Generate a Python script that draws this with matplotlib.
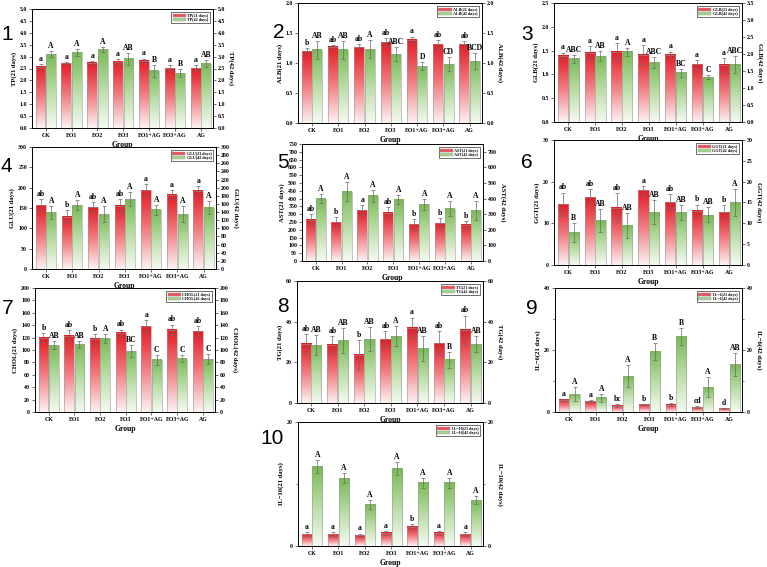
"""Serum indices of the seven feeding groups at 21 and 42 days (ten twin-axis bar panels)."""

import numpy as np
import matplotlib
matplotlib.use("Agg")
import matplotlib.pyplot as plt
from matplotlib.colors import LinearSegmentedColormap
from matplotlib.patches import Patch
from matplotlib.ticker import MultipleLocator, FormatStrFormatter

groups = ["CK", "EO1", "EO2", "EO3", "EO1+AG", "EO3+AG", "AG"]

# 1 TP
tp_21 = [2.58, 2.73, 2.75, 2.79, 2.82, 2.51, 2.51]
tp_21_err = [0.12, 0.05, 0.05, 0.10, 0.10, 0.12, 0.12]
tp_21_sig = ["a", "a", "a", "a", "a", "a", "a"]
tp_42 = [3.10, 3.18, 3.31, 2.90, 2.41, 2.31, 2.70]
tp_42_err = [0.12, 0.15, 0.10, 0.25, 0.25, 0.15, 0.15]
tp_42_sig = ["A", "A", "A", "AB", "B", "B", "AB"]

# 2 ALB
alb_21 = [1.20, 1.27, 1.26, 1.35, 1.39, 1.31, 1.31]
alb_21_err = [0.05, 0.03, 0.05, 0.07, 0.05, 0.07, 0.06]
alb_21_sig = ["b", "ab", "ab", "ab", "a", "ab", "ab"]
alb_42 = [1.22, 1.22, 1.23, 1.15, 0.95, 0.98, 1.03]
alb_42_err = [0.15, 0.15, 0.15, 0.12, 0.06, 0.12, 0.13]
alb_42_sig = ["AB", "AB", "A", "ABC", "D", "CD", "BCD"]

# 3 GLB (right axis has its own scale)
glb_21 = [1.39, 1.45, 1.48, 1.41, 1.41, 1.21, 1.20]
glb_21_err = [0.07, 0.15, 0.17, 0.20, 0.07, 0.10, 0.15]
glb_21_sig = ["a", "a", "a", "a", "a", "a", "a"]
glb_42 = [1.86, 1.94, 2.06, 1.75, 1.45, 1.32, 1.68]
glb_42_err = [0.12, 0.15, 0.12, 0.17, 0.12, 0.06, 0.25]
glb_42_sig = ["ABC", "AB", "A", "ABC", "BC", "C", "ABC"]

# 4 GLU
glu_21 = [157, 129, 152, 156, 194, 183, 193]
glu_21_err = [15, 15, 12, 15, 15, 12, 12]
glu_21_sig = ["ab", "b", "ab", "ab", "a", "a", "a"]
glu_42 = [139, 157, 135, 172, 146, 135, 151]
glu_42_err = [15, 12, 20, 18, 12, 20, 15]
glu_42_sig = ["A", "A", "A", "A", "A", "A", "A"]

# 5 AST
ast_21 = [266, 249, 326, 309, 236, 243, 232]
ast_21_err = [35, 35, 30, 35, 35, 30, 25]
ast_21_sig = ["ab", "b", "a", "ab", "b", "b", "b"]
ast_42 = [400, 445, 417, 394, 364, 336, 323]
ast_42_err = [30, 60, 40, 30, 35, 50, 60]
ast_42_sig = ["A", "A", "A", "A", "A", "A", "A"]

# 6 GGT
ggt_21 = [14.6, 16.3, 13.7, 17.9, 15.1, 13.0, 12.7]
ggt_21_err = [2.8, 2.0, 3.5, 1.0, 2.0, 1.5, 1.6]
ggt_21_sig = ["ab", "ab", "ab", "a", "ab", "b", "b"]
ggt_42 = [7.8, 10.7, 9.4, 12.7, 12.6, 12.0, 15.0]
ggt_42_err = [2.2, 2.8, 3.0, 2.8, 1.8, 1.8, 3.2]
ggt_42_sig = ["B", "AB", "AB", "AB", "AB", "AB", "A"]

# 7 CHOL
chol_21 = [120, 123, 118, 128, 138, 133, 130]
chol_21_err = [7, 9, 8, 5, 10, 8, 8]
chol_21_sig = ["b", "ab", "b", "ab", "a", "ab", "ab"]
chol_42 = [108, 109, 119, 98, 84, 86, 85]
chol_42_err = [6, 6, 7, 10, 8, 6, 8]
chol_42_sig = ["AB", "AB", "A", "BC", "C", "C", "C"]

# 8 TG
tg_21 = [29.1, 28.6, 23.8, 31.4, 37.0, 29.4, 36.0]
tg_21_err = [5, 4.5, 7, 4, 5, 6, 7]
tg_21_sig = ["ab", "ab", "b", "ab", "a", "ab", "ab"]
tg_42 = [28.4, 30.7, 31.4, 32.9, 26.9, 21.2, 28.9]
tg_42_err = [5, 6, 6, 5, 6, 4, 4]
tg_42_sig = ["AB", "AB", "AB", "A", "AB", "B", "AB"]

# 9 IL-6
il6_21 = [4.0, 3.5, 2.05, 2.5, 2.4, 1.5, 1.2]
il6_21_err = [0.3, 0.3, 0.5, 0.2, 0.6, 0.3, 0.2]
il6_21_sig = ["a", "a", "bc", "b", "b", "cd", "d"]
il6_42 = [5.7, 4.6, 11.6, 19.5, 24.3, 8.0, 15.4]
il6_42_err = [2.3, 1.3, 3.5, 2.7, 2.8, 3.3, 3.7]
il6_42_sig = ["A", "A", "A", "B", "B", "A", "AB"]

# 10 IL-10
il10_21 = [1.9, 1.9, 1.7, 2.1, 3.1, 2.1, 1.9]
il10_21_err = [0.3, 0.3, 0.3, 0.3, 0.4, 0.3, 0.3]
il10_21_sig = ["a", "a", "a", "a", "b", "a", "a"]
il10_42 = [12.8, 10.9, 6.7, 12.5, 10.2, 10.2, 7.4]
il10_42_err = [1.0, 0.8, 0.7, 1.1, 0.8, 0.8, 0.6]
il10_42_sig = ["A", "A", "A", "A", "A", "A", "A"]

W, H = 767, 567
SERIF = "Liberation Serif"
red_cmap = LinearSegmentedColormap.from_list("red", ["#fdf1f2", "#f27d82", "#e41c25"])
green_cmap = LinearSegmentedColormap.from_list("green", ["#f4faf0", "#b9dca5", "#78bb55"])
bar_w = 0.38

panels = [
    # number, name, data, axes px box (x0, y0, x1, y1), left (top, step), right (top, step), fmt, number xy
    ("1", "TP", (tp_21, tp_21_err, tp_21_sig, tp_42, tp_42_err, tp_42_sig),
     (32, 9, 213, 128), (5.0, 0.5), (5.0, 0.5), "%.1f", (7, 35)),
    ("2", "ALB", (alb_21, alb_21_err, alb_21_sig, alb_42, alb_42_err, alb_42_sig),
     (298, 3, 482, 123), (2.0, 0.5), (2.0, 0.5), "%.1f", (279, 33)),
    ("3", "GLB", (glb_21, glb_21_err, glb_21_sig, glb_42, glb_42_err, glb_42_sig),
     (554, 3, 742, 122), (2.5, 0.5), (3.5, 0.5), "%.1f", (527, 35)),
    ("4", "GLU", (glu_21, glu_21_err, glu_21_sig, glu_42, glu_42_err, glu_42_sig),
     (32, 147, 216, 269), (300, 50), (300, 20), "%d", (6, 167)),
    ("5", "AST", (ast_21, ast_21_err, ast_21_sig, ast_42, ast_42_err, ast_42_sig),
     (302, 144, 483, 261), (750, 50), (750, 100), "%d", (283, 162)),
    ("6", "GGT", (ggt_21, ggt_21_err, ggt_21_sig, ggt_42, ggt_42_err, ggt_42_sig),
     (554, 140, 742, 265), (30, 10), (30, 5), "%d", (527, 163)),
    ("7", "CHOL", (chol_21, chol_21_err, chol_21_sig, chol_42, chol_42_err, chol_42_sig),
     (35, 288, 215, 412), (200, 20), (200, 20), "%d", (8, 308)),
    ("8", "TG", (tg_21, tg_21_err, tg_21_sig, tg_42, tg_42_err, tg_42_sig),
     (297, 281, 483, 403), (60, 20), (60, 20), "%d", (283, 307)),
    ("9", "IL\u22126", (il6_21, il6_21_err, il6_21_sig, il6_42, il6_42_err, il6_42_sig),
     (555, 288, 742, 412), (40, 20), (40, 20), "%d", (532, 308)),
    ("10", "IL\u221210", (il10_21, il10_21_err, il10_21_sig, il10_42, il10_42_err, il10_42_sig),
     (298, 422, 483, 546), (20, 20), (20, 20), "%d", (272, 439)),
]


def gradient_bars(ax, xs, heights, errs, sigs, cmap):
    for xc, h in zip(xs, heights):
        ax.imshow(np.linspace(0, 1, 64).reshape(-1, 1), extent=(xc - bar_w / 2, xc + bar_w / 2, 0, h),
                  origin="lower", aspect="auto", cmap=cmap, zorder=2, interpolation="bilinear")
    ax.bar(xs, heights, width=bar_w, facecolor="none", edgecolor="#9a9a9a", lw=0.4, zorder=3)
    ax.errorbar(xs, heights, yerr=errs, fmt="none", ecolor="#6a6a6a", elinewidth=0.5,
                capsize=1.2, capthick=0.5, zorder=4)
    for xc, h, e, s in zip(xs, heights, errs, sigs):
        ax.annotate(s, (xc, h + e), xytext=(0, 0.8), textcoords="offset points", ha="center",
                    va="bottom", fontsize=5.5, fontweight="bold", family=SERIF, zorder=5)


def style_axis(ax, top, step, fmt, minor):
    ax.set_ylim(0, top)
    ax.yaxis.set_major_locator(MultipleLocator(step))
    ax.yaxis.set_major_formatter(FormatStrFormatter(fmt))
    if minor:
        ax.yaxis.set_minor_locator(MultipleLocator(step / 2))
    ax.tick_params(axis="both", which="major", direction="out", length=2, width=0.4, labelsize=4.2, pad=1.5)
    ax.tick_params(axis="both", which="minor", direction="out", length=1.2, width=0.4)
    for lab in ax.get_yticklabels() + ax.get_xticklabels():
        lab.set_family(SERIF)
        lab.set_fontweight("bold")


fig = plt.figure(figsize=(W / 100, H / 100), dpi=100)
x = np.arange(len(groups))

for num, name, data, box, left, right, fmt, num_xy in panels:
    r, r_err, r_sig, g, g_err, g_sig = data
    x0, y0, x1, y1 = box
    ax = fig.add_axes([x0 / W, 1 - y1 / H, (x1 - x0) / W, (y1 - y0) / H])
    ax2 = ax.twinx()
    gradient_bars(ax, x - 0.2, r, r_err, r_sig, red_cmap)
    gradient_bars(ax2, x + 0.2, g, g_err, g_sig, green_cmap)
    for a in (ax, ax2):
        a.set_xlim(-0.53, 6.47)
        for sp in a.spines.values():
            sp.set_linewidth(0.6)
    minor = left[1] == 20 and left[0] <= 40
    style_axis(ax, left[0], left[1], fmt, minor)
    style_axis(ax2, right[0], right[1], fmt, minor)
    ax.set_xticks(x)
    ax.set_xticklabels(groups, family=SERIF, fontweight="bold", fontsize=4.2)
    ax.set_xlabel("Group", family=SERIF, fontweight="bold", fontsize=5.5, labelpad=2)
    ax.set_ylabel(f"{name}(21 days)", family=SERIF, fontweight="bold", fontsize=4.8, labelpad=2)
    ax2.set_ylabel(f"{name}(42 days)", family=SERIF, fontweight="bold", fontsize=4.8,
                   rotation=270, va="bottom", labelpad=2)
    handles = [Patch(facecolor="#ee5259", edgecolor="#999999", lw=0.3, label=f"{name}(21 days)"),
               Patch(facecolor="#a8d490", edgecolor="#999999", lw=0.3, label=f"{name}(42 days)")]
    leg = ax2.legend(handles=handles, loc="upper right", prop={"family": SERIF, "weight": "bold", "size": 3},
                     frameon=True, fancybox=False, edgecolor="black", framealpha=1,
                     handlelength=3.2, handleheight=0.8, borderpad=0.3, labelspacing=0.1,
                     handletextpad=0.3, borderaxespad=0.8)
    leg.get_frame().set_linewidth(0.4)
    leg.set_zorder(10)
    fig.text(num_xy[0] / W, 1 - num_xy[1] / H, num, fontsize=15, family="Liberation Sans",
             ha="center", va="center")

fig.savefig("out.png", dpi=100)
